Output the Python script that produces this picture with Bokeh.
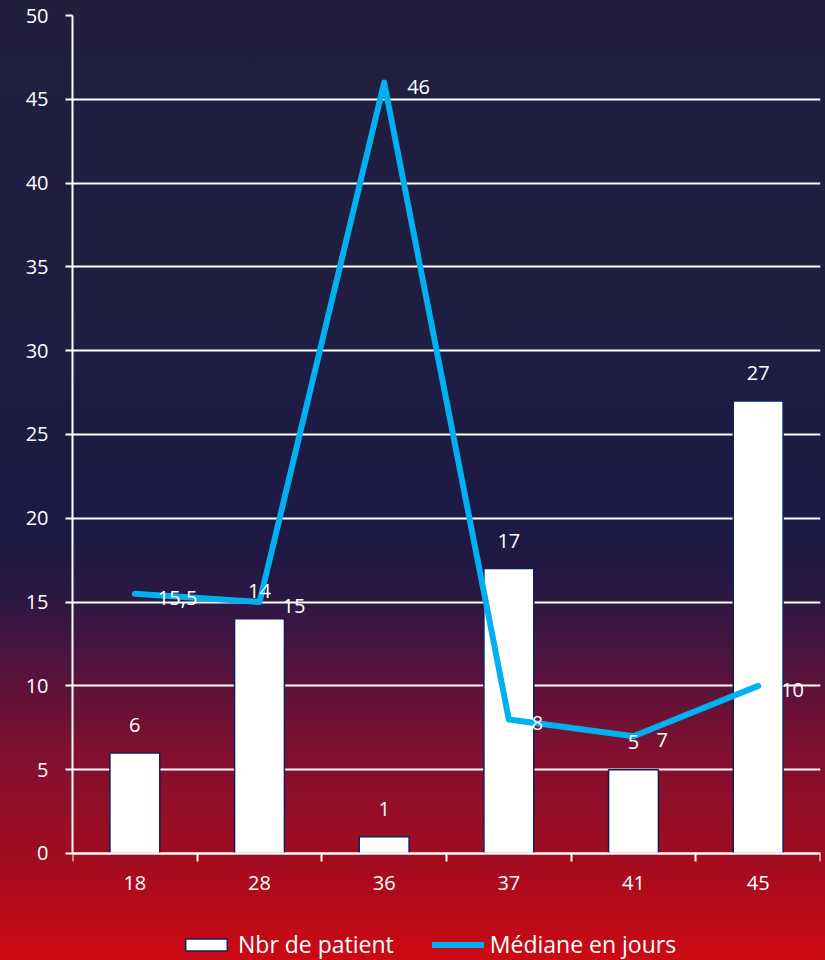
from bokeh.plotting import figure
from bokeh.models import (ColumnDataSource, FixedTicker, Legend, LegendItem,
                          GlobalInlineStyleSheet)
from bokeh.embed import file_html
from bokeh.resources import INLINE
from bokeh.core.properties import value

# ---- data ----
categories = ["18", "28", "36", "37", "41", "45"]
patients = [6, 14, 1, 17, 5, 27]
median_days = [15.5, 15, 46, 8, 7, 10]
median_labels = ["15,5", "15", "46", "8", "7", "10"]
y_ticks = [0, 5, 10, 15, 20, 25, 30, 35, 40, 45, 50]

FONT = "Open Sans"
xs = [i + 0.5 for i in range(len(categories))]

src = ColumnDataSource(dict(
    x=xs, pat=patients, med=median_days,
    pat_lbl=[str(v) for v in patients], med_lbl=median_labels,
))

gradient = ("linear-gradient(to bottom, #221f3d 0%, #1f1e42 30%, #1c1a45 55%, "
            "#2a1843 62%, #4a1440 68%, #7f1030 78%, #a00c20 89%, #cc0a14 100%)")
css = GlobalInlineStyleSheet(css=f"html {{ min-height: 100%; background: {gradient}; }} "
                                 "body { background: transparent; margin: 0; overflow: hidden; }")

p = figure(width=825, height=960, output_backend="svg", toolbar_location=None,
           x_range=(0, len(categories)), y_range=(-6.385, 50),
           min_border_left=72, min_border_right=5, min_border_top=15,
           min_border_bottom=0)
p.stylesheets = [css]
p.background_fill_alpha = 0
p.border_fill_alpha = 0
p.outline_line_alpha = 0

# grid
p.xgrid.visible = False
p.ygrid.ticker = FixedTicker(ticks=y_ticks)
p.ygrid.grid_line_color = "white"
p.ygrid.grid_line_width = 2

# y axis
p.yaxis.ticker = FixedTicker(ticks=y_ticks)
p.yaxis.bounds = (0, 50)
p.yaxis.axis_line_color = "white"
p.yaxis.axis_line_width = 2
p.yaxis.major_tick_line_color = "white"
p.yaxis.major_tick_line_width = 2
p.yaxis.major_tick_out = 7
p.yaxis.major_tick_in = 0
p.yaxis.minor_tick_line_color = None
p.yaxis.major_label_text_color = "white"
p.yaxis.major_label_text_font = FONT
p.yaxis.major_label_text_font_size = "20px"
p.yaxis.major_label_standoff = 17

# x axis: drawn at y = 0, ticks between categories, labels at centres
p.xaxis.fixed_location = 0
p.xaxis.ticker = FixedTicker(ticks=xs, minor_ticks=list(range(len(categories) + 1)))
p.xaxis.major_label_overrides = {x: c for x, c in zip(xs, categories)}
p.xaxis.axis_line_color = "white"
p.xaxis.axis_line_width = 2
p.xaxis.major_tick_line_color = None
p.xaxis.major_tick_out = 0
p.xaxis.major_tick_in = 0
p.xaxis.minor_tick_line_color = "white"
p.xaxis.minor_tick_line_width = 2
p.xaxis.minor_tick_out = 8
p.xaxis.minor_tick_in = 0
p.xaxis.major_label_text_color = "white"
p.xaxis.major_label_text_font = FONT
p.xaxis.major_label_text_font_size = "20px"
p.xaxis.major_label_standoff = 15

# bars
bars = p.vbar(x="x", top="pat", width=0.4, source=src, fill_color="white",
              line_color="#0f1f5c", line_width=1.5)
# line
line = p.line(x="x", y="med", source=src, line_color="#00b0f0", line_width=6,
              line_join="round", line_cap="round")

# labels
p.text(x="x", y="pat", text="pat_lbl", source=src, text_align="center",
       text_baseline="middle", y_offset=-28, text_color="white",
       text_font=value(FONT), text_font_size="20px")
p.text(x="x", y="med", text="med_lbl", source=src, text_align="left",
       text_baseline="middle", x_offset=23, y_offset=4, text_color="white",
       text_font=value(FONT), text_font_size="20px")

legend = Legend(items=[LegendItem(label="Nbr de patient", renderers=[bars]),
                       LegendItem(label="Médiane en jours", renderers=[line])],
                orientation="horizontal", location=(108, 0),
                label_text_color="white", label_text_font=FONT,
                label_text_font_size="23px", background_fill_alpha=0,
                border_line_alpha=0, glyph_width=52, glyph_height=15,
                spacing=38, label_standoff=6, margin=0, padding=0)
p.add_layout(legend, "center")

open("out.html", "w").write(file_html(p, INLINE))
